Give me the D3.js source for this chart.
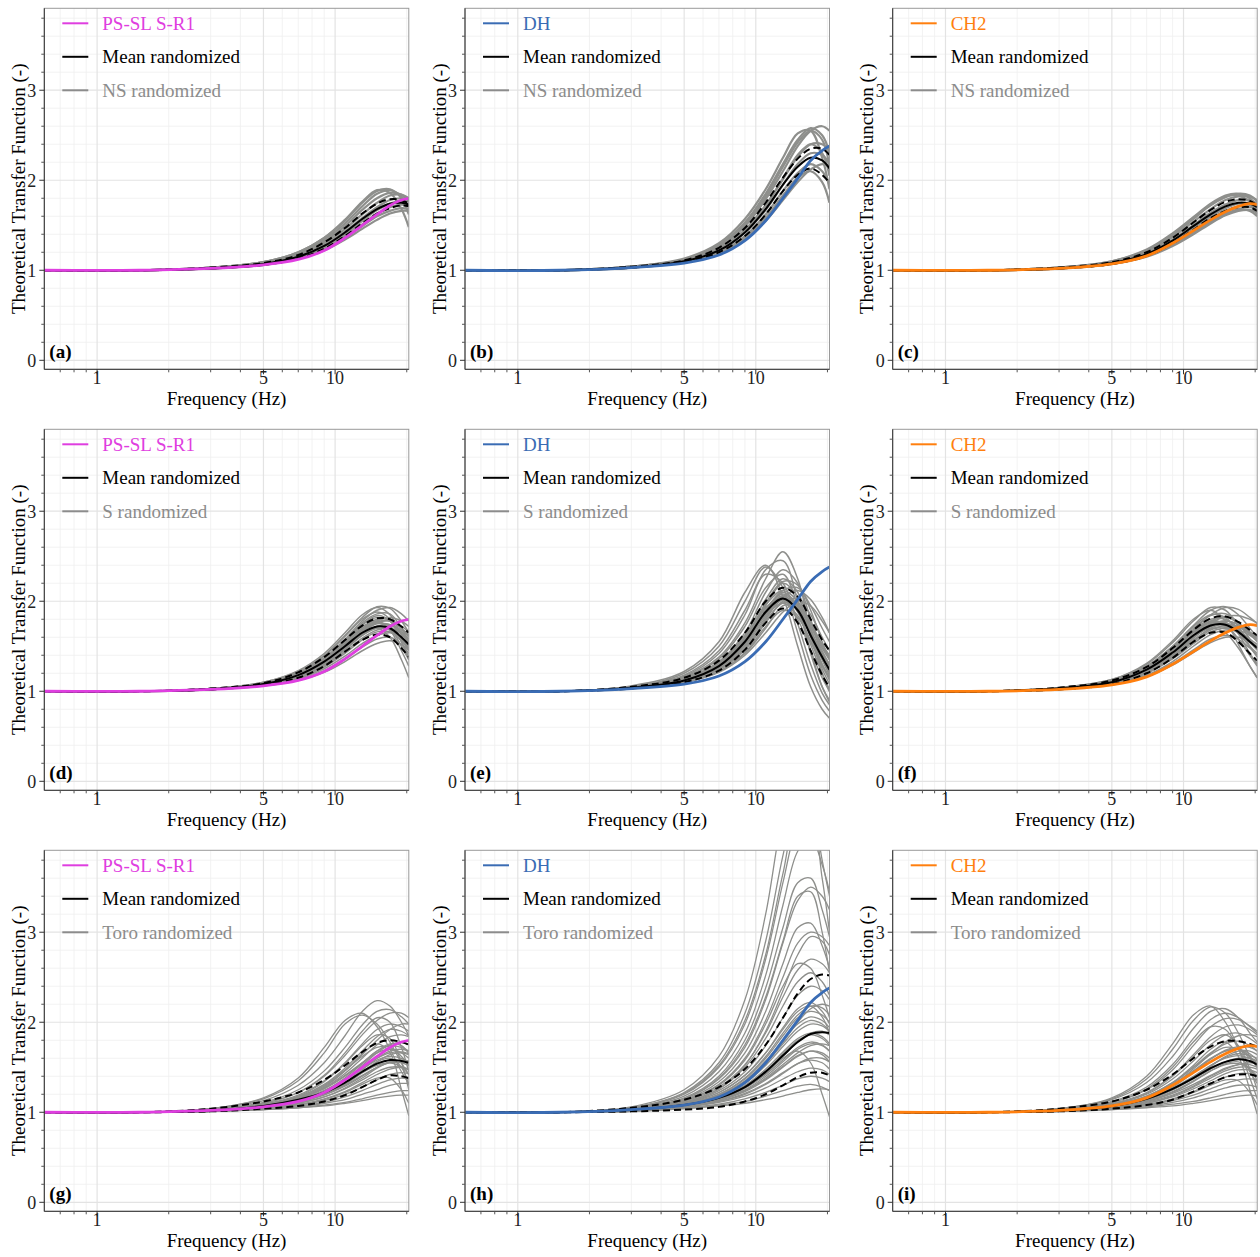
<!DOCTYPE html>
<html>
<head>
<meta charset="utf-8">
<script src="https://cdn.jsdelivr.net/npm/d3@7"></script>
<style>
  body { margin: 0; background: #fff; }
  text { font-family: "Liberation Serif", "Times New Roman", serif; }
</style>
</head>
<body>
<svg id="chart"></svg>
<script>
const freq = [0.6, 1.5, 3, 5, 7, 9, 11, 13, 15, 17, 19, 20.4];

//--reference sites
const psslRef = [1.0, 1.0, 1.02, 1.06, 1.12, 1.22, 1.36, 1.50, 1.62, 1.72, 1.78, 1.80];
const dhRef   = [1.0, 1.0, 1.03, 1.08, 1.17, 1.33, 1.55, 1.80, 2.02, 2.22, 2.33, 2.38];
const ch2Ref  = [1.0, 1.0, 1.02, 1.07, 1.16, 1.30, 1.44, 1.56, 1.65, 1.71, 1.74, 1.73];

//--(a) NS randomized, PS-SL S-R1
const meanA = [1, 1, 1.02, 1.07, 1.15, 1.27, 1.42, 1.57, 1.68, 1.74, 1.75, 1.73];
const hiA   = [1, 1, 1.03, 1.08, 1.17, 1.31, 1.47, 1.63, 1.74, 1.79, 1.78, 1.74];
const loA   = [1, 1, 1.02, 1.06, 1.13, 1.24, 1.38, 1.52, 1.63, 1.69, 1.72, 1.71];
const grayA = [
  [1, 1, 1.03, 1.09, 1.20, 1.36, 1.55, 1.75, 1.88, 1.90, 1.80, 1.62],
  [1, 1, 1.03, 1.09, 1.19, 1.34, 1.52, 1.71, 1.85, 1.89, 1.82, 1.70],
  [1, 1, 1.03, 1.08, 1.18, 1.32, 1.49, 1.67, 1.80, 1.86, 1.84, 1.77],
  [1, 1, 1.03, 1.08, 1.17, 1.30, 1.46, 1.62, 1.75, 1.83, 1.84, 1.80],
  [1, 1, 1.02, 1.07, 1.16, 1.28, 1.43, 1.58, 1.70, 1.78, 1.80, 1.78],
  [1, 1, 1.02, 1.07, 1.15, 1.26, 1.40, 1.55, 1.67, 1.74, 1.77, 1.76],
  [1, 1, 1.02, 1.06, 1.14, 1.25, 1.38, 1.51, 1.63, 1.70, 1.73, 1.72],
  [1, 1, 1.02, 1.06, 1.13, 1.23, 1.36, 1.49, 1.60, 1.66, 1.69, 1.68],
  [1, 1, 1.03, 1.09, 1.20, 1.36, 1.56, 1.76, 1.89, 1.86, 1.68, 1.48],
  [1, 1, 1.02, 1.06, 1.13, 1.22, 1.34, 1.46, 1.56, 1.63, 1.66, 1.66]
];

//--(b) NS randomized, DH
const meanB = [1, 1, 1.03, 1.10, 1.22, 1.42, 1.68, 1.95, 2.15, 2.25, 2.22, 2.13];
const hiB   = [1, 1, 1.04, 1.11, 1.25, 1.47, 1.75, 2.03, 2.24, 2.35, 2.35, 2.28];
const loB   = [1, 1, 1.03, 1.09, 1.20, 1.38, 1.62, 1.88, 2.06, 2.13, 2.06, 1.97];
const grayB = [
  [1, 1, 1.04, 1.13, 1.30, 1.57, 1.90, 2.25, 2.52, 2.55, 2.25, 1.90],
  [1, 1, 1.04, 1.12, 1.28, 1.53, 1.85, 2.18, 2.45, 2.58, 2.50, 2.30],
  [1, 1, 1.04, 1.12, 1.26, 1.49, 1.79, 2.10, 2.38, 2.55, 2.60, 2.55],
  [1, 1, 1.04, 1.11, 1.24, 1.45, 1.72, 2.01, 2.26, 2.40, 2.40, 2.32],
  [1, 1, 1.03, 1.10, 1.22, 1.42, 1.67, 1.95, 2.18, 2.30, 2.28, 2.18],
  [1, 1, 1.03, 1.09, 1.20, 1.38, 1.62, 1.88, 2.08, 2.18, 2.10, 1.95],
  [1, 1, 1.03, 1.09, 1.19, 1.36, 1.58, 1.83, 2.03, 2.10, 1.98, 1.75],
  [1, 1, 1.03, 1.10, 1.23, 1.44, 1.72, 2.02, 2.28, 2.40, 2.30, 2.05],
  [1, 1, 1.03, 1.09, 1.18, 1.34, 1.55, 1.78, 1.98, 2.12, 2.18, 2.15],
  [1, 1, 1.04, 1.12, 1.27, 1.51, 1.82, 2.15, 2.42, 2.55, 2.45, 2.15]
];

//--(c) NS randomized, CH2
const meanC = [1, 1, 1.02, 1.08, 1.18, 1.33, 1.49, 1.62, 1.71, 1.75, 1.74, 1.70];
const hiC   = [1, 1, 1.03, 1.09, 1.20, 1.36, 1.53, 1.67, 1.76, 1.79, 1.77, 1.72];
const loC   = [1, 1, 1.02, 1.07, 1.16, 1.30, 1.45, 1.58, 1.66, 1.70, 1.70, 1.66];
const grayC = [
  [1, 1, 1.03, 1.10, 1.23, 1.41, 1.59, 1.74, 1.83, 1.85, 1.80, 1.70],
  [1, 1, 1.03, 1.10, 1.22, 1.39, 1.57, 1.72, 1.81, 1.85, 1.83, 1.76],
  [1, 1, 1.03, 1.09, 1.21, 1.37, 1.54, 1.68, 1.78, 1.82, 1.82, 1.78],
  [1, 1, 1.02, 1.08, 1.19, 1.34, 1.50, 1.64, 1.73, 1.78, 1.78, 1.74],
  [1, 1, 1.02, 1.08, 1.18, 1.32, 1.47, 1.60, 1.69, 1.74, 1.74, 1.70],
  [1, 1, 1.02, 1.07, 1.17, 1.30, 1.44, 1.57, 1.66, 1.71, 1.72, 1.69],
  [1, 1, 1.02, 1.07, 1.16, 1.29, 1.43, 1.55, 1.63, 1.67, 1.66, 1.60],
  [1, 1, 1.02, 1.07, 1.16, 1.28, 1.41, 1.53, 1.62, 1.68, 1.70, 1.68],
  [1, 1, 1.03, 1.09, 1.22, 1.40, 1.58, 1.73, 1.82, 1.83, 1.76, 1.62],
  [1, 1, 1.02, 1.07, 1.15, 1.27, 1.40, 1.52, 1.61, 1.66, 1.67, 1.64]
];

//--(d) S randomized, PS-SL S-R1
const meanD = [1, 1, 1.02, 1.08, 1.18, 1.33, 1.50, 1.65, 1.72, 1.70, 1.60, 1.52];
const hiD   = [1, 1, 1.03, 1.09, 1.21, 1.38, 1.57, 1.73, 1.81, 1.80, 1.72, 1.65];
const loD   = [1, 1, 1.02, 1.07, 1.15, 1.28, 1.44, 1.57, 1.63, 1.60, 1.48, 1.38];
const grayD = [
  [1, 1, 1.03, 1.10, 1.23, 1.42, 1.65, 1.85, 1.93, 1.85, 1.62, 1.45],
  [1, 1, 1.03, 1.10, 1.22, 1.40, 1.62, 1.82, 1.94, 1.92, 1.78, 1.65],
  [1, 1, 1.03, 1.09, 1.20, 1.37, 1.58, 1.78, 1.90, 1.93, 1.86, 1.78],
  [1, 1, 1.03, 1.09, 1.21, 1.39, 1.61, 1.80, 1.88, 1.80, 1.55, 1.35],
  [1, 1, 1.02, 1.08, 1.18, 1.33, 1.52, 1.70, 1.80, 1.80, 1.70, 1.60],
  [1, 1, 1.02, 1.08, 1.17, 1.31, 1.49, 1.66, 1.76, 1.78, 1.72, 1.66],
  [1, 1, 1.02, 1.08, 1.19, 1.35, 1.55, 1.72, 1.78, 1.68, 1.45, 1.28],
  [1, 1, 1.02, 1.07, 1.16, 1.29, 1.46, 1.62, 1.72, 1.74, 1.66, 1.58],
  [1, 1, 1.02, 1.07, 1.15, 1.27, 1.42, 1.57, 1.66, 1.66, 1.56, 1.46],
  [1, 1, 1.02, 1.07, 1.16, 1.30, 1.48, 1.64, 1.70, 1.60, 1.35, 1.15],
  [1, 1, 1.02, 1.07, 1.14, 1.25, 1.39, 1.53, 1.62, 1.65, 1.60, 1.52],
  [1, 1, 1.02, 1.06, 1.13, 1.23, 1.36, 1.49, 1.58, 1.60, 1.52, 1.42],
  [1, 1, 1.02, 1.08, 1.18, 1.34, 1.54, 1.74, 1.84, 1.78, 1.55, 1.38],
  [1, 1, 1.02, 1.06, 1.12, 1.21, 1.33, 1.45, 1.53, 1.56, 1.52, 1.46],
  [1, 1, 1.02, 1.08, 1.17, 1.32, 1.51, 1.68, 1.78, 1.82, 1.78, 1.72],
  [1, 1, 1.03, 1.09, 1.20, 1.36, 1.56, 1.76, 1.86, 1.86, 1.70, 1.55],
  [1, 1, 1.02, 1.08, 1.17, 1.32, 1.50, 1.66, 1.75, 1.74, 1.64, 1.56],
  [1, 1, 1.02, 1.08, 1.18, 1.34, 1.52, 1.68, 1.76, 1.72, 1.58, 1.48],
  [1, 1, 1.02, 1.07, 1.16, 1.30, 1.47, 1.62, 1.70, 1.68, 1.58, 1.50],
  [1, 1, 1.03, 1.09, 1.20, 1.36, 1.56, 1.74, 1.82, 1.78, 1.64, 1.54],
  [1, 1, 1.02, 1.08, 1.18, 1.33, 1.51, 1.67, 1.77, 1.78, 1.70, 1.62],
  [1, 1, 1.02, 1.07, 1.15, 1.28, 1.44, 1.59, 1.68, 1.70, 1.64, 1.58],
  [1, 1, 1.03, 1.09, 1.19, 1.35, 1.54, 1.70, 1.77, 1.70, 1.50, 1.35],
  [1, 1, 1.02, 1.07, 1.17, 1.31, 1.48, 1.63, 1.72, 1.74, 1.68, 1.62]
];

//--(e) S randomized, DH
const meanE = [1, 1, 1.04, 1.12, 1.28, 1.55, 1.88, 2.03, 1.90, 1.62, 1.38, 1.24];
const hiE   = [1, 1, 1.05, 1.15, 1.34, 1.65, 2.00, 2.15, 2.05, 1.80, 1.57, 1.45];
const loE   = [1, 1, 1.03, 1.10, 1.23, 1.46, 1.76, 1.92, 1.76, 1.45, 1.18, 1.04];
const grayE = [
  [1, 1, 1.06, 1.22, 1.55, 2.10, 2.40, 2.05, 1.50, 1.05, 0.80, 0.70],
  [1, 1, 1.05, 1.20, 1.50, 2.00, 2.38, 2.15, 1.65, 1.18, 0.90, 0.78],
  [1, 1, 1.05, 1.17, 1.42, 1.85, 2.35, 2.45, 2.00, 1.45, 1.05, 0.88],
  [1, 1, 1.05, 1.16, 1.38, 1.76, 2.25, 2.55, 2.25, 1.65, 1.20, 1.00],
  [1, 1, 1.04, 1.14, 1.33, 1.65, 2.10, 2.35, 2.20, 1.80, 1.40, 1.20],
  [1, 1, 1.04, 1.13, 1.30, 1.58, 1.98, 2.22, 2.18, 1.90, 1.55, 1.35],
  [1, 1, 1.04, 1.12, 1.27, 1.52, 1.88, 2.12, 2.15, 1.95, 1.70, 1.55],
  [1, 1, 1.03, 1.11, 1.25, 1.48, 1.80, 2.05, 2.12, 2.02, 1.82, 1.65],
  [1, 1, 1.04, 1.13, 1.29, 1.57, 1.95, 2.20, 2.05, 1.65, 1.30, 1.12],
  [1, 1, 1.04, 1.12, 1.28, 1.55, 1.90, 2.10, 1.95, 1.60, 1.25, 1.08],
  [1, 1, 1.03, 1.11, 1.24, 1.46, 1.76, 2.00, 2.02, 1.85, 1.60, 1.45],
  [1, 1, 1.03, 1.10, 1.22, 1.42, 1.70, 1.95, 1.95, 1.72, 1.45, 1.30],
  [1, 1, 1.04, 1.12, 1.27, 1.53, 1.86, 2.05, 1.88, 1.52, 1.20, 1.02],
  [1, 1, 1.03, 1.10, 1.22, 1.43, 1.72, 1.90, 1.82, 1.55, 1.28, 1.15],
  [1, 1, 1.05, 1.18, 1.45, 1.90, 2.30, 2.20, 1.75, 1.30, 0.98, 0.85],
  [1, 1, 1.04, 1.14, 1.32, 1.62, 2.02, 2.25, 2.10, 1.70, 1.35, 1.18],
  [1, 1, 1.03, 1.10, 1.21, 1.40, 1.65, 1.88, 2.00, 1.95, 1.78, 1.65],
  [1, 1, 1.04, 1.15, 1.36, 1.72, 2.15, 2.30, 1.95, 1.42, 1.05, 0.90],
  [1, 1, 1.04, 1.12, 1.28, 1.55, 1.89, 2.06, 1.93, 1.62, 1.36, 1.22],
  [1, 1, 1.04, 1.13, 1.30, 1.58, 1.92, 2.08, 1.95, 1.68, 1.42, 1.28],
  [1, 1, 1.04, 1.11, 1.26, 1.52, 1.85, 2.02, 1.92, 1.66, 1.42, 1.30],
  [1, 1, 1.04, 1.12, 1.27, 1.53, 1.84, 1.98, 1.84, 1.56, 1.30, 1.16],
  [1, 1, 1.04, 1.13, 1.31, 1.60, 1.96, 2.12, 2.00, 1.72, 1.48, 1.35],
  [1, 1, 1.03, 1.11, 1.25, 1.50, 1.82, 2.02, 1.98, 1.76, 1.52, 1.40],
  [1, 1, 1.04, 1.13, 1.30, 1.58, 1.93, 2.02, 1.80, 1.45, 1.15, 1.00],
  [1, 1, 1.03, 1.11, 1.24, 1.47, 1.78, 1.98, 1.95, 1.75, 1.50, 1.38]
];

//--(f) S randomized, CH2
const meanF = [1, 1, 1.03, 1.10, 1.24, 1.43, 1.62, 1.73, 1.74, 1.66, 1.55, 1.48];
const hiF   = [1, 1, 1.04, 1.12, 1.27, 1.48, 1.68, 1.81, 1.83, 1.77, 1.68, 1.62];
const loF   = [1, 1, 1.02, 1.08, 1.20, 1.37, 1.55, 1.65, 1.65, 1.55, 1.42, 1.34];
const grayF = [
  [1, 1, 1.04, 1.13, 1.30, 1.54, 1.78, 1.93, 1.90, 1.72, 1.50, 1.38],
  [1, 1, 1.04, 1.12, 1.28, 1.50, 1.73, 1.90, 1.94, 1.85, 1.70, 1.60],
  [1, 1, 1.03, 1.11, 1.26, 1.46, 1.68, 1.85, 1.93, 1.91, 1.82, 1.75],
  [1, 1, 1.04, 1.13, 1.31, 1.56, 1.80, 1.90, 1.78, 1.52, 1.28, 1.15],
  [1, 1, 1.03, 1.10, 1.24, 1.43, 1.63, 1.78, 1.82, 1.76, 1.64, 1.55],
  [1, 1, 1.03, 1.10, 1.23, 1.41, 1.60, 1.74, 1.78, 1.74, 1.66, 1.60],
  [1, 1, 1.03, 1.11, 1.25, 1.46, 1.66, 1.78, 1.74, 1.58, 1.40, 1.28],
  [1, 1, 1.03, 1.09, 1.21, 1.38, 1.56, 1.70, 1.75, 1.72, 1.64, 1.58],
  [1, 1, 1.03, 1.09, 1.20, 1.36, 1.53, 1.66, 1.70, 1.65, 1.55, 1.48],
  [1, 1, 1.03, 1.10, 1.23, 1.42, 1.60, 1.70, 1.65, 1.48, 1.28, 1.15],
  [1, 1, 1.02, 1.08, 1.18, 1.33, 1.50, 1.63, 1.68, 1.68, 1.62, 1.56],
  [1, 1, 1.02, 1.08, 1.17, 1.31, 1.46, 1.58, 1.62, 1.58, 1.48, 1.40],
  [1, 1, 1.04, 1.12, 1.28, 1.50, 1.72, 1.85, 1.82, 1.64, 1.42, 1.30],
  [1, 1, 1.02, 1.07, 1.16, 1.29, 1.43, 1.54, 1.60, 1.60, 1.55, 1.50],
  [1, 1, 1.03, 1.10, 1.22, 1.40, 1.59, 1.75, 1.83, 1.84, 1.80, 1.76],
  [1, 1, 1.03, 1.11, 1.27, 1.48, 1.70, 1.84, 1.86, 1.76, 1.58, 1.46],
  [1, 1, 1.03, 1.10, 1.24, 1.43, 1.63, 1.75, 1.76, 1.68, 1.56, 1.48],
  [1, 1, 1.03, 1.11, 1.25, 1.45, 1.65, 1.77, 1.76, 1.64, 1.50, 1.42],
  [1, 1, 1.03, 1.10, 1.23, 1.41, 1.60, 1.72, 1.74, 1.68, 1.58, 1.52],
  [1, 1, 1.03, 1.11, 1.26, 1.47, 1.68, 1.80, 1.80, 1.70, 1.55, 1.46],
  [1, 1, 1.03, 1.10, 1.23, 1.42, 1.61, 1.74, 1.78, 1.74, 1.64, 1.58],
  [1, 1, 1.02, 1.09, 1.21, 1.39, 1.57, 1.69, 1.71, 1.65, 1.54, 1.46],
  [1, 1, 1.03, 1.11, 1.26, 1.46, 1.66, 1.76, 1.72, 1.58, 1.40, 1.30],
  [1, 1, 1.02, 1.09, 1.20, 1.37, 1.55, 1.68, 1.73, 1.71, 1.64, 1.60]
];

//--(g) Toro randomized, PS-SL S-R1
const meanG = [1, 1, 1.02, 1.07, 1.14, 1.22, 1.33, 1.45, 1.54, 1.58, 1.57, 1.55];
const hiG   = [1, 1, 1.04, 1.12, 1.22, 1.36, 1.52, 1.67, 1.77, 1.80, 1.78, 1.75];
const loG   = [1, 1, 1.01, 1.04, 1.07, 1.12, 1.19, 1.28, 1.36, 1.41, 1.40, 1.38];
const grayG = [
  [1, 1, 1.04, 1.16, 1.38, 1.72, 2.02, 2.10, 1.95, 1.70, 1.45, 1.32],
  [1, 1, 1.04, 1.15, 1.35, 1.66, 1.98, 2.08, 1.98, 1.78, 1.55, 1.42],
  [1, 1, 1.04, 1.13, 1.30, 1.55, 1.85, 2.12, 2.24, 2.18, 2.00, 1.85],
  [1, 1, 1.03, 1.11, 1.25, 1.46, 1.72, 1.97, 2.12, 2.14, 2.06, 1.98],
  [1, 1, 1.03, 1.10, 1.22, 1.40, 1.63, 1.86, 2.02, 2.10, 2.10, 2.05],
  [1, 1, 1.03, 1.10, 1.22, 1.41, 1.66, 1.90, 2.05, 2.00, 1.72, 1.45],
  [1, 1, 1.03, 1.09, 1.19, 1.35, 1.55, 1.76, 1.92, 1.98, 1.95, 1.90],
  [1, 1, 1.02, 1.08, 1.17, 1.31, 1.49, 1.68, 1.84, 1.92, 1.90, 1.85],
  [1, 1, 1.02, 1.07, 1.15, 1.27, 1.43, 1.60, 1.75, 1.84, 1.86, 1.84],
  [1, 1, 1.02, 1.07, 1.14, 1.24, 1.38, 1.54, 1.68, 1.76, 1.74, 1.65],
  [1, 1, 1.02, 1.06, 1.12, 1.21, 1.33, 1.47, 1.60, 1.68, 1.70, 1.68],
  [1, 1, 1.02, 1.06, 1.12, 1.20, 1.31, 1.44, 1.56, 1.60, 1.50, 1.30],
  [1, 1, 1.01, 1.05, 1.10, 1.17, 1.27, 1.38, 1.49, 1.56, 1.58, 1.56],
  [1, 1, 1.01, 1.05, 1.09, 1.15, 1.23, 1.33, 1.42, 1.48, 1.50, 1.48],
  [1, 1, 1.01, 1.04, 1.08, 1.13, 1.20, 1.28, 1.36, 1.42, 1.44, 1.43],
  [1, 1, 1.01, 1.04, 1.07, 1.11, 1.17, 1.24, 1.31, 1.36, 1.38, 1.37],
  [1, 1, 1.01, 1.03, 1.06, 1.10, 1.14, 1.20, 1.25, 1.30, 1.32, 1.32],
  [1, 1, 1.01, 1.03, 1.05, 1.08, 1.11, 1.15, 1.19, 1.22, 1.24, 1.24],
  [1, 1, 1.02, 1.07, 1.15, 1.28, 1.46, 1.65, 1.76, 1.66, 1.25, 0.96],
  [1, 1, 1.01, 1.04, 1.08, 1.14, 1.22, 1.31, 1.38, 1.38, 1.25, 1.10],
  [1, 1, 1.02, 1.08, 1.18, 1.34, 1.54, 1.74, 1.86, 1.82, 1.55, 1.25],
  [1, 1, 1.01, 1.03, 1.05, 1.07, 1.10, 1.13, 1.16, 1.18, 1.19, 1.19],
  [1, 1, 1.02, 1.06, 1.13, 1.23, 1.36, 1.52, 1.66, 1.75, 1.78, 1.75],
  [1, 1, 1.02, 1.07, 1.16, 1.29, 1.46, 1.64, 1.80, 1.92, 1.98, 1.98],
  [1, 1, 1.02, 1.07, 1.14, 1.23, 1.35, 1.48, 1.58, 1.62, 1.60, 1.56],
  [1, 1, 1.02, 1.08, 1.16, 1.27, 1.41, 1.55, 1.66, 1.70, 1.66, 1.60],
  [1, 1, 1.02, 1.07, 1.14, 1.24, 1.36, 1.49, 1.60, 1.66, 1.67, 1.65],
  [1, 1, 1.02, 1.06, 1.12, 1.20, 1.30, 1.41, 1.50, 1.55, 1.55, 1.52],
  [1, 1, 1.02, 1.07, 1.15, 1.26, 1.40, 1.55, 1.68, 1.74, 1.72, 1.68],
  [1, 1, 1.02, 1.06, 1.13, 1.22, 1.33, 1.44, 1.52, 1.55, 1.50, 1.42],
  [1, 1, 1.02, 1.08, 1.17, 1.30, 1.47, 1.62, 1.72, 1.72, 1.62, 1.52],
  [1, 1, 1.01, 1.05, 1.11, 1.19, 1.29, 1.40, 1.50, 1.56, 1.58, 1.57],
  [1, 1, 1.02, 1.06, 1.12, 1.21, 1.32, 1.45, 1.56, 1.64, 1.66, 1.64],
  [1, 1, 1.01, 1.05, 1.10, 1.17, 1.26, 1.36, 1.45, 1.50, 1.50, 1.47]
];

//--(h) Toro randomized, DH
const meanH = [1, 1, 1.03, 1.08, 1.16, 1.28, 1.45, 1.63, 1.78, 1.87, 1.89, 1.88];
const hiH   = [1, 1, 1.05, 1.14, 1.28, 1.48, 1.75, 2.05, 2.32, 2.48, 2.53, 2.52];
const loH   = [1, 1, 1.01, 1.03, 1.06, 1.12, 1.20, 1.30, 1.39, 1.44, 1.44, 1.41];
const grayH = [
  [1, 1, 1.06, 1.25, 1.62, 2.25, 3.20, 4.30, 4.80, 4.50, 3.80, 3.40],
  [1, 1, 1.05, 1.22, 1.55, 2.10, 2.90, 3.85, 4.50, 4.60, 4.20, 3.90],
  [1, 1, 1.05, 1.20, 1.50, 1.98, 2.70, 3.55, 4.20, 4.40, 4.20, 3.95],
  [1, 1, 1.05, 1.18, 1.45, 1.88, 2.52, 3.30, 3.90, 4.05, 3.75, 3.45],
  [1, 1, 1.04, 1.16, 1.40, 1.80, 2.38, 3.05, 3.55, 3.60, 3.25, 2.95],
  [1, 1, 1.04, 1.15, 1.37, 1.72, 2.25, 2.88, 3.35, 3.50, 3.40, 3.25],
  [1, 1, 1.04, 1.14, 1.34, 1.66, 2.12, 2.65, 3.05, 3.10, 2.85, 2.60],
  [1, 1, 1.04, 1.13, 1.31, 1.60, 2.02, 2.50, 2.88, 3.00, 2.95, 2.85],
  [1, 1, 1.04, 1.13, 1.30, 1.58, 1.98, 2.40, 2.65, 2.60, 2.30, 2.05],
  [1, 1, 1.03, 1.12, 1.28, 1.53, 1.88, 2.28, 2.58, 2.70, 2.65, 2.55],
  [1, 1, 1.03, 1.11, 1.26, 1.50, 1.82, 2.18, 2.45, 2.55, 2.45, 2.30],
  [1, 1, 1.03, 1.10, 1.24, 1.45, 1.74, 2.05, 2.30, 2.40, 2.35, 2.25],
  [1, 1, 1.03, 1.10, 1.22, 1.41, 1.66, 1.94, 2.15, 2.22, 2.12, 1.98],
  [1, 1, 1.03, 1.09, 1.20, 1.37, 1.60, 1.85, 2.05, 2.12, 2.08, 2.00],
  [1, 1, 1.03, 1.09, 1.19, 1.34, 1.54, 1.76, 1.94, 2.02, 1.98, 1.90],
  [1, 1, 1.02, 1.08, 1.17, 1.30, 1.48, 1.67, 1.82, 1.88, 1.84, 1.76],
  [1, 1, 1.02, 1.07, 1.15, 1.27, 1.42, 1.58, 1.72, 1.78, 1.75, 1.68],
  [1, 1, 1.02, 1.07, 1.14, 1.24, 1.37, 1.51, 1.63, 1.68, 1.64, 1.56],
  [1, 1, 1.02, 1.06, 1.12, 1.21, 1.32, 1.44, 1.54, 1.58, 1.55, 1.48],
  [1, 1, 1.02, 1.06, 1.11, 1.18, 1.27, 1.37, 1.45, 1.49, 1.47, 1.42],
  [1, 1, 1.01, 1.05, 1.09, 1.15, 1.22, 1.30, 1.37, 1.40, 1.38, 1.34],
  [1, 1, 1.01, 1.04, 1.08, 1.12, 1.18, 1.24, 1.29, 1.31, 1.28, 1.24],
  [1, 1, 1.01, 1.04, 1.07, 1.10, 1.14, 1.18, 1.22, 1.25, 1.26, 1.25],
  [1, 1, 1.02, 1.07, 1.15, 1.27, 1.43, 1.60, 1.68, 1.55, 1.20, 0.95],
  [1, 1, 1.04, 1.15, 1.38, 1.75, 2.28, 2.90, 3.40, 3.45, 3.00, 2.55],
  [1, 1, 1.03, 1.11, 1.26, 1.52, 1.90, 2.35, 2.75, 2.95, 2.90, 2.75],
  [1, 1, 1.02, 1.08, 1.18, 1.33, 1.54, 1.78, 2.00, 2.15, 2.20, 2.18],
  [1, 1, 1.05, 1.21, 1.52, 2.02, 2.75, 3.65, 4.30, 4.30, 3.60, 3.00],
  [1, 1, 1.03, 1.09, 1.19, 1.35, 1.57, 1.80, 1.98, 2.06, 2.02, 1.94],
  [1, 1, 1.02, 1.08, 1.18, 1.32, 1.52, 1.73, 1.90, 1.98, 1.96, 1.90],
  [1, 1, 1.02, 1.08, 1.16, 1.29, 1.46, 1.65, 1.80, 1.86, 1.82, 1.74],
  [1, 1, 1.02, 1.07, 1.14, 1.25, 1.40, 1.56, 1.70, 1.76, 1.74, 1.68],
  [1, 1, 1.02, 1.07, 1.15, 1.27, 1.44, 1.62, 1.78, 1.88, 1.90, 1.86],
  [1, 1, 1.02, 1.06, 1.13, 1.23, 1.36, 1.50, 1.62, 1.68, 1.66, 1.60],
  [1, 1, 1.03, 1.10, 1.22, 1.41, 1.66, 1.92, 2.12, 2.18, 2.06, 1.88],
  [1, 1, 1.02, 1.07, 1.14, 1.24, 1.38, 1.53, 1.66, 1.74, 1.76, 1.74],
  [1, 1, 1.03, 1.09, 1.20, 1.38, 1.62, 1.88, 2.08, 2.18, 2.16, 2.08],
  [1, 1, 1.02, 1.06, 1.12, 1.20, 1.31, 1.43, 1.54, 1.60, 1.60, 1.56]
];

//--(i) Toro randomized, CH2
const meanI = [1, 1, 1.02, 1.07, 1.15, 1.26, 1.38, 1.49, 1.56, 1.59, 1.57, 1.53];
const hiI   = [1, 1, 1.04, 1.12, 1.25, 1.42, 1.60, 1.73, 1.79, 1.79, 1.76, 1.73];
const loI   = [1, 1, 1.01, 1.04, 1.08, 1.14, 1.23, 1.32, 1.39, 1.42, 1.42, 1.40];
const grayI = [
  [1, 1, 1.04, 1.16, 1.40, 1.76, 2.08, 2.18, 2.00, 1.72, 1.45, 1.32],
  [1, 1, 1.04, 1.15, 1.37, 1.70, 2.02, 2.17, 2.10, 1.88, 1.62, 1.50],
  [1, 1, 1.04, 1.14, 1.33, 1.62, 1.93, 2.12, 2.15, 2.05, 1.88, 1.78],
  [1, 1, 1.03, 1.12, 1.28, 1.53, 1.82, 2.03, 2.10, 2.05, 1.95, 1.88],
  [1, 1, 1.03, 1.11, 1.25, 1.47, 1.74, 1.95, 2.04, 2.03, 1.96, 1.90],
  [1, 1, 1.03, 1.11, 1.26, 1.50, 1.78, 1.95, 1.92, 1.70, 1.38, 1.15],
  [1, 1, 1.03, 1.10, 1.22, 1.41, 1.64, 1.84, 1.95, 1.97, 1.92, 1.86],
  [1, 1, 1.02, 1.09, 1.20, 1.37, 1.57, 1.75, 1.86, 1.88, 1.82, 1.76],
  [1, 1, 1.02, 1.08, 1.17, 1.32, 1.50, 1.66, 1.76, 1.79, 1.74, 1.68],
  [1, 1, 1.02, 1.07, 1.15, 1.28, 1.44, 1.59, 1.68, 1.70, 1.62, 1.52],
  [1, 1, 1.02, 1.07, 1.14, 1.25, 1.39, 1.52, 1.61, 1.65, 1.63, 1.60],
  [1, 1, 1.02, 1.06, 1.12, 1.22, 1.34, 1.46, 1.54, 1.56, 1.48, 1.35],
  [1, 1, 1.01, 1.05, 1.10, 1.18, 1.28, 1.38, 1.46, 1.50, 1.50, 1.48],
  [1, 1, 1.01, 1.05, 1.09, 1.15, 1.23, 1.32, 1.39, 1.43, 1.43, 1.41],
  [1, 1, 1.01, 1.04, 1.08, 1.13, 1.19, 1.26, 1.32, 1.36, 1.37, 1.36],
  [1, 1, 1.01, 1.04, 1.07, 1.11, 1.16, 1.22, 1.27, 1.30, 1.30, 1.28],
  [1, 1, 1.01, 1.03, 1.06, 1.09, 1.12, 1.16, 1.20, 1.23, 1.24, 1.24],
  [1, 1, 1.02, 1.08, 1.18, 1.33, 1.52, 1.70, 1.78, 1.62, 1.25, 0.98],
  [1, 1, 1.01, 1.04, 1.08, 1.14, 1.22, 1.30, 1.36, 1.35, 1.22, 1.08],
  [1, 1, 1.02, 1.09, 1.21, 1.40, 1.62, 1.80, 1.86, 1.74, 1.48, 1.25],
  [1, 1, 1.01, 1.03, 1.05, 1.07, 1.10, 1.13, 1.16, 1.18, 1.19, 1.18],
  [1, 1, 1.02, 1.07, 1.16, 1.30, 1.48, 1.65, 1.78, 1.85, 1.86, 1.84],
  [1, 1, 1.02, 1.07, 1.15, 1.27, 1.40, 1.52, 1.60, 1.63, 1.60, 1.55],
  [1, 1, 1.02, 1.08, 1.17, 1.31, 1.46, 1.60, 1.68, 1.70, 1.65, 1.58],
  [1, 1, 1.02, 1.07, 1.14, 1.25, 1.37, 1.48, 1.56, 1.60, 1.60, 1.57],
  [1, 1, 1.02, 1.06, 1.12, 1.21, 1.31, 1.41, 1.49, 1.53, 1.53, 1.50],
  [1, 1, 1.02, 1.08, 1.17, 1.30, 1.45, 1.59, 1.69, 1.73, 1.72, 1.68],
  [1, 1, 1.02, 1.06, 1.13, 1.23, 1.35, 1.46, 1.53, 1.54, 1.48, 1.40],
  [1, 1, 1.02, 1.08, 1.18, 1.33, 1.50, 1.64, 1.72, 1.70, 1.60, 1.50],
  [1, 1, 1.01, 1.05, 1.11, 1.19, 1.29, 1.40, 1.48, 1.53, 1.55, 1.54],
  [1, 1, 1.02, 1.07, 1.14, 1.25, 1.38, 1.51, 1.62, 1.68, 1.68, 1.64],
  [1, 1, 1.01, 1.05, 1.10, 1.17, 1.26, 1.35, 1.43, 1.47, 1.47, 1.44]
];

//--axis ticks
const xMajor = [1, 5, 10];
const xMinor = [0.7, 0.8, 0.9, 2, 3, 4, 6, 7, 8, 9, 20];
const yMajor = [0, 1, 2, 3];
const yMinor = [0.2, 0.4, 0.6, 0.8, 1.2, 1.4, 1.6, 1.8, 2.2, 2.4, 2.6, 2.8, 3.2, 3.4, 3.6, 3.8];

const refNames = ['PS-SL S-R1', 'DH', 'CH2'];
const randNames = ['NS randomized', 'S randomized', 'Toro randomized'];
//--

let width = 1260;
let height = 1257;

let svg = d3.select('#chart')
            .attr('width', width)
            .attr('height', height);

let refColors = ['#df3ee0', '#3a6cb4', '#ff7f0e'];
let refData = [psslRef, dhRef, ch2Ref];

let panels = [
  { label: '(a)', row: 0, col: 0, gray: grayA, mean: meanA, hi: hiA, lo: loA },
  { label: '(b)', row: 0, col: 1, gray: grayB, mean: meanB, hi: hiB, lo: loB },
  { label: '(c)', row: 0, col: 2, gray: grayC, mean: meanC, hi: hiC, lo: loC },
  { label: '(d)', row: 1, col: 0, gray: grayD, mean: meanD, hi: hiD, lo: loD },
  { label: '(e)', row: 1, col: 1, gray: grayE, mean: meanE, hi: hiE, lo: loE },
  { label: '(f)', row: 1, col: 2, gray: grayF, mean: meanF, hi: hiF, lo: loF },
  { label: '(g)', row: 2, col: 0, gray: grayG, mean: meanG, hi: hiG, lo: loG },
  { label: '(h)', row: 2, col: 1, gray: grayH, mean: meanH, hi: hiH, lo: loH },
  { label: '(i)', row: 2, col: 2, gray: grayI, mean: meanI, hi: hiI, lo: loI }
];

//--panel geometry
let colLeft = [44.3, 465, 892.7];
let rowTop = [8.3, 429.3, 850.3];
let pw = 364.5;
let ph = 361;

let x = d3.scaleLog().domain([0.6, 20.4]).range([0, pw]);
let y = d3.scaleLinear().domain([-0.1, 3.91]).range([ph, 0]);

let line = d3.line()
             .x((d, i) => x(freq[i]))
             .y(d => y(d))
             .curve(d3.curveCatmullRom.alpha(0.5));

let grayColor = '#8e8f8c';
let grayWidths = [2.2, 1.5, 1.3];

let drawPanel = (p, k) => {
    let g = svg.append('g')
               .attr('transform', 'translate(' + colLeft[p.col] + ',' + rowTop[p.row] + ')');

    g.append('clipPath').attr('id', 'clip' + k)
     .append('rect').attr('width', pw).attr('height', ph);

    // grid
    g.selectAll('.ygm').data(yMinor).enter().append('line')
     .attr('x1', 0).attr('x2', pw).attr('y1', d => y(d)).attr('y2', d => y(d))
     .attr('stroke', '#efefef').attr('stroke-width', 0.8);
    g.selectAll('.xgm').data(xMinor).enter().append('line')
     .attr('y1', 0).attr('y2', ph).attr('x1', d => x(d)).attr('x2', d => x(d))
     .attr('stroke', '#efefef').attr('stroke-width', 0.8);
    g.selectAll('.ygM').data(yMajor).enter().append('line')
     .attr('x1', 0).attr('x2', pw).attr('y1', d => y(d)).attr('y2', d => y(d))
     .attr('stroke', '#e3e3e3').attr('stroke-width', 1.2);
    g.selectAll('.xgM').data(xMajor).enter().append('line')
     .attr('y1', 0).attr('y2', ph).attr('x1', d => x(d)).attr('x2', d => x(d))
     .attr('stroke', '#e3e3e3').attr('stroke-width', 1.2);

    // curves
    let curves = g.append('g').attr('clip-path', 'url(#clip' + k + ')');
    curves.selectAll('.gray').data(p.gray).enter().append('path')
          .attr('d', line).attr('fill', 'none')
          .attr('stroke', grayColor).attr('stroke-width', grayWidths[p.row]);
    [p.hi, p.lo].forEach(arr => {
        curves.append('path').attr('d', line(arr)).attr('fill', 'none')
              .attr('stroke', '#000').attr('stroke-width', 2)
              .attr('stroke-dasharray', '7,4');
    });
    curves.append('path').attr('d', line(p.mean)).attr('fill', 'none')
          .attr('stroke', '#000').attr('stroke-width', 2);
    curves.append('path').attr('d', line(refData[p.col])).attr('fill', 'none')
          .attr('stroke', refColors[p.col]).attr('stroke-width', 2.8);

    // border and axes
    g.append('rect').attr('width', pw).attr('height', ph)
     .attr('fill', 'none').attr('stroke', '#9a9a9a').attr('stroke-width', 1);
    g.append('line').attr('x1', 0).attr('x2', 0).attr('y1', 0).attr('y2', ph)
     .attr('stroke', '#333').attr('stroke-width', 1);
    g.append('line').attr('x1', 0).attr('x2', pw).attr('y1', ph).attr('y2', ph)
     .attr('stroke', '#333').attr('stroke-width', 1);

    g.selectAll('.ytM').data(yMajor).enter().append('line')
     .attr('x1', -5).attr('x2', 0).attr('y1', d => y(d)).attr('y2', d => y(d))
     .attr('stroke', '#333');
    g.selectAll('.ytm').data(yMinor).enter().append('line')
     .attr('x1', -3).attr('x2', 0).attr('y1', d => y(d)).attr('y2', d => y(d))
     .attr('stroke', '#555');
    g.selectAll('.xtM').data(xMajor).enter().append('line')
     .attr('y1', ph).attr('y2', ph + 5).attr('x1', d => x(d)).attr('x2', d => x(d))
     .attr('stroke', '#333');
    g.selectAll('.xtm').data(xMinor).enter().append('line')
     .attr('y1', ph).attr('y2', ph + 3).attr('x1', d => x(d)).attr('x2', d => x(d))
     .attr('stroke', '#555');

    g.selectAll('.ylab').data(yMajor).enter().append('text')
     .attr('x', -8).attr('y', d => y(d)).attr('dy', '0.35em')
     .attr('text-anchor', 'end').attr('font-size', 18).attr('fill', '#222')
     .text(d => d);
    g.selectAll('.xlab').data(xMajor).enter().append('text')
     .attr('x', d => x(d)).attr('y', ph + 15)
     .attr('text-anchor', 'middle').attr('font-size', 18).attr('fill', '#222')
     .text(d => d);

    g.append('text')
     .attr('x', pw / 2).attr('y', ph + 36)
     .attr('text-anchor', 'middle').attr('font-size', 19)
     .text('Frequency (Hz)');
    g.append('text')
     .attr('transform', 'translate(-19.5,' + (ph / 2) + ') rotate(-90)')
     .attr('text-anchor', 'middle').attr('font-size', 19)
     .text('Theoretical Transfer Function (-)');

    g.append('text')
     .attr('x', 5).attr('y', ph - 11)
     .attr('font-size', 19).attr('font-weight', 'bold')
     .text(p.label);

    // legend
    let legend = [
        { name: refNames[p.col], color: refColors[p.col] },
        { name: 'Mean randomized', color: '#000' },
        { name: randNames[p.row], color: '#8c8c8c' }
    ];
    let lg = g.selectAll('.leg').data(legend).enter().append('g')
              .attr('transform', (d, i) => 'translate(0,' + (15 + i * 33.5) + ')');
    lg.append('line').attr('x1', 18).attr('x2', 44).attr('y1', 0).attr('y2', 0)
      .attr('stroke', d => d.color).attr('stroke-width', 2);
    lg.append('text').attr('x', 58).attr('y', 0).attr('dy', '0.33em')
      .attr('font-size', 19).attr('fill', d => d.color)
      .text(d => d.name);
};

panels.forEach(drawPanel);
</script>
</body>
</html>
